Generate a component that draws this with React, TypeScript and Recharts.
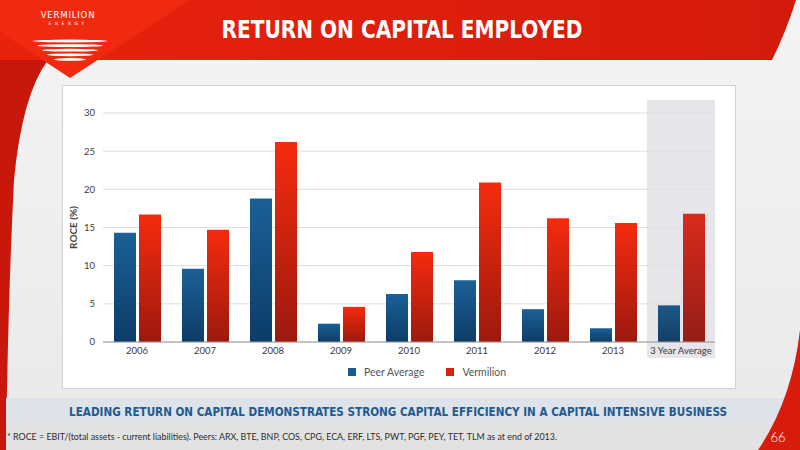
import { BarChart, Bar, XAxis, YAxis, CartesianGrid, ReferenceArea, Cell } from 'recharts';

const years = ['2006', '2007', '2008', '2009', '2010', '2011', '2012', '2013', '3 Year Average'];
const peerAverage = [14.3, 9.6, 18.8, 2.4, 6.3, 8.1, 4.3, 1.8, 4.8];
const vermilion = [16.7, 14.7, 26.2, 4.6, 11.8, 20.9, 16.2, 15.6, 16.8];
const yTicks = [0, 5, 10, 15, 20, 25, 30];
const seriesNames = ['Peer Average', 'Vermilion'];
const seriesColors = ['#175a8f', '#d8210f'];
const highlighted = '3 Year Average';

const data = years.map((year, i) => ({ year, peer: peerAverage[i], vermilion: vermilion[i] }));

const tickStyle = { fill: '#3a3a3a', fontSize: 9.5, fontFamily: 'Lato, sans-serif' };

function Slide() {
  // background of the presentation slide
  return (
    <svg width={800} height={450} style={{ position: 'absolute', left: 0, top: 0 }}>
      <defs>
        <linearGradient id="bodyBg" x1="0" y1="0" x2="0" y2="1">
          <stop offset="0" stopColor="#f4f4f4" />
          <stop offset="1" stopColor="#e9e9e9" />
        </linearGradient>
        <linearGradient id="headerBg" x1="0" y1="0" x2="1" y2="0">
          <stop offset="0" stopColor="#e8220c" />
          <stop offset="1" stopColor="#d41b0b" />
        </linearGradient>
      </defs>
      <rect x={0} y={0} width={800} height={450} fill="url(#bodyBg)" />
      {/* header band */}
      <path d="M0,0 H796 Q786,32 772,60 H0 Z" fill="url(#headerBg)" />
      {/* left red edge */}
      <path d="M0,60 H48 Q22,95 14,180 Q8,300 6,450 H0 Z" fill="#c8180b" />
      {/* logo triangle */}
      <path d="M0,0 H190 L70,78 L0,32 Z" fill="#f02a10" />
      <text x={68} y={18} textAnchor="middle" fill="#fff" fontSize={9.5} fontFamily="DejaVu Sans Condensed, sans-serif" letterSpacing={0.8}>VERMILION</text>
      <text x={68} y={25} textAnchor="middle" fill="#fff" fontSize={4.5} fontFamily="DejaVu Sans, sans-serif" letterSpacing={3.5}>ENERGY</text>
      {[75, 66, 56, 46, 32].map((w, i) => (
        <ellipse key={i} cx={70} cy={41 + i * 4.6} rx={w / 2} ry={1.4} fill="#fff" />
      ))}
      <text x={402} y={38} textAnchor="middle" fill="#fff" fontSize={25} fontWeight="bold" fontFamily="Liberation Sans Narrow, DejaVu Sans Condensed, sans-serif" textLength={361} lengthAdjust="spacingAndGlyphs">RETURN ON CAPITAL EMPLOYED</text>
      {/* chart panel */}
      <rect x={62.5} y={85.5} width={673} height={303} fill="#fff" stroke="#d2d2d2" />
      {/* bottom bands */}
      <rect x={6} y={398} width={790} height={27} fill="#dde3e8" />
      <rect x={6} y={425} width={790} height={25} fill="#e2e2e2" />
      <path d="M800,330 Q792,400 758,450 H800 Z" fill="#d81c0c" />
      <text x={398} y={416} textAnchor="middle" fill="#1f5a91" fontSize={11.6} fontWeight="bold" fontFamily="Liberation Sans Narrow, DejaVu Sans Condensed, sans-serif">LEADING RETURN ON CAPITAL DEMONSTRATES STRONG CAPITAL EFFICIENCY IN A CAPITAL INTENSIVE BUSINESS</text>
      <text x={7} y={440} fill="#2e2e2e" fontSize={8.5} fontFamily="Lato, sans-serif" textLength={550} lengthAdjust="spacingAndGlyphs">* ROCE = EBIT/(total assets - current liabilities).  Peers: ARX, BTE, BNP, COS, CPG, ECA, ERF, LTS, PWT, PGF, PEY, TET, TLM as at end of 2013.</text>
      <text x={778} y={442} textAnchor="middle" fill="#fff" fontSize={13} fontFamily="Lato, sans-serif" fontWeight={300}>66</text>
    </svg>
  );
}

function YLabel({ viewBox }: any) {
  const x = viewBox.x + 10;
  const y = viewBox.y + viewBox.height / 2;
  return (
    <text x={x} y={y} transform={`rotate(-90, ${x}, ${y})`} textAnchor="middle" dominantBaseline="central" fill="#444" fontSize={10} fontWeight="bold" fontFamily="Lato, sans-serif">
      ROCE (%)
    </text>
  );
}

export default function App() {
  return (
    <div style={{ position: 'absolute', left: 0, top: 0, width: 800, height: 450, overflow: 'hidden', fontFamily: 'Lato, sans-serif' }}>
      <Slide />
      <div style={{ position: 'absolute', left: 0, top: 0 }}>
        <BarChart width={800} height={450} data={data} margin={{ top: 113, right: 85, left: 63, bottom: 78 }} barSize={22} barGap={3}>
          <defs>
            <linearGradient id="gBlue" x1="0" y1="0" x2="0" y2="1">
              <stop offset="0" stopColor="#1b6097" />
              <stop offset="1" stopColor="#0d3c68" />
            </linearGradient>
            <linearGradient id="gRed" x1="0" y1="0" x2="0" y2="1">
              <stop offset="0" stopColor="#f52b0e" />
              <stop offset="1" stopColor="#9d190e" />
            </linearGradient>
            <linearGradient id="gBlueMuted" x1="0" y1="0" x2="0" y2="1">
              <stop offset="0" stopColor="#1d598a" />
              <stop offset="1" stopColor="#143e63" />
            </linearGradient>
            <linearGradient id="gRedMuted" x1="0" y1="0" x2="0" y2="1">
              <stop offset="0" stopColor="#d92a1d" />
              <stop offset="1" stopColor="#951e17" />
            </linearGradient>
          </defs>
          <CartesianGrid vertical={false} stroke="#dedede" />
          <ReferenceArea x1={highlighted} x2={highlighted} y1={-2.1} y2={31.7} ifOverflow="visible" fill="#dcdce3" fillOpacity={0.75} />
          <XAxis dataKey="year" tick={tickStyle} tickLine={false} axisLine={{ stroke: '#9a9a9a' }} tickSize={0} tickMargin={5} interval={0} />
          <YAxis domain={[0, 30]} ticks={yTicks} width={40} tick={tickStyle} tickLine={false} axisLine={false} tickSize={0} tickMargin={8} label={<YLabel />} />
          <Bar dataKey="peer" name={seriesNames[0]} fill="url(#gBlue)" isAnimationActive={false}>
            {data.map((d) => (
              <Cell key={d.year} fill={d.year === highlighted ? 'url(#gBlueMuted)' : 'url(#gBlue)'} />
            ))}
          </Bar>
          <Bar dataKey="vermilion" name={seriesNames[1]} fill="url(#gRed)" isAnimationActive={false}>
            {data.map((d) => (
              <Cell key={d.year} fill={d.year === highlighted ? 'url(#gRedMuted)' : 'url(#gRed)'} />
            ))}
          </Bar>
        </BarChart>
      </div>
      {/* legend */}
      <div style={{ position: 'absolute', left: 348, top: 366, display: 'flex', alignItems: 'center', fontSize: 10.5, color: '#555' }}>
        {seriesNames.map((name, i) => (
          <div key={name} style={{ display: 'flex', alignItems: 'center', marginRight: 22 }}>
            <span style={{ width: 8, height: 8, background: seriesColors[i], marginRight: 8, display: 'inline-block' }} />
            <span>{name}</span>
          </div>
        ))}
      </div>
    </div>
  );
}
